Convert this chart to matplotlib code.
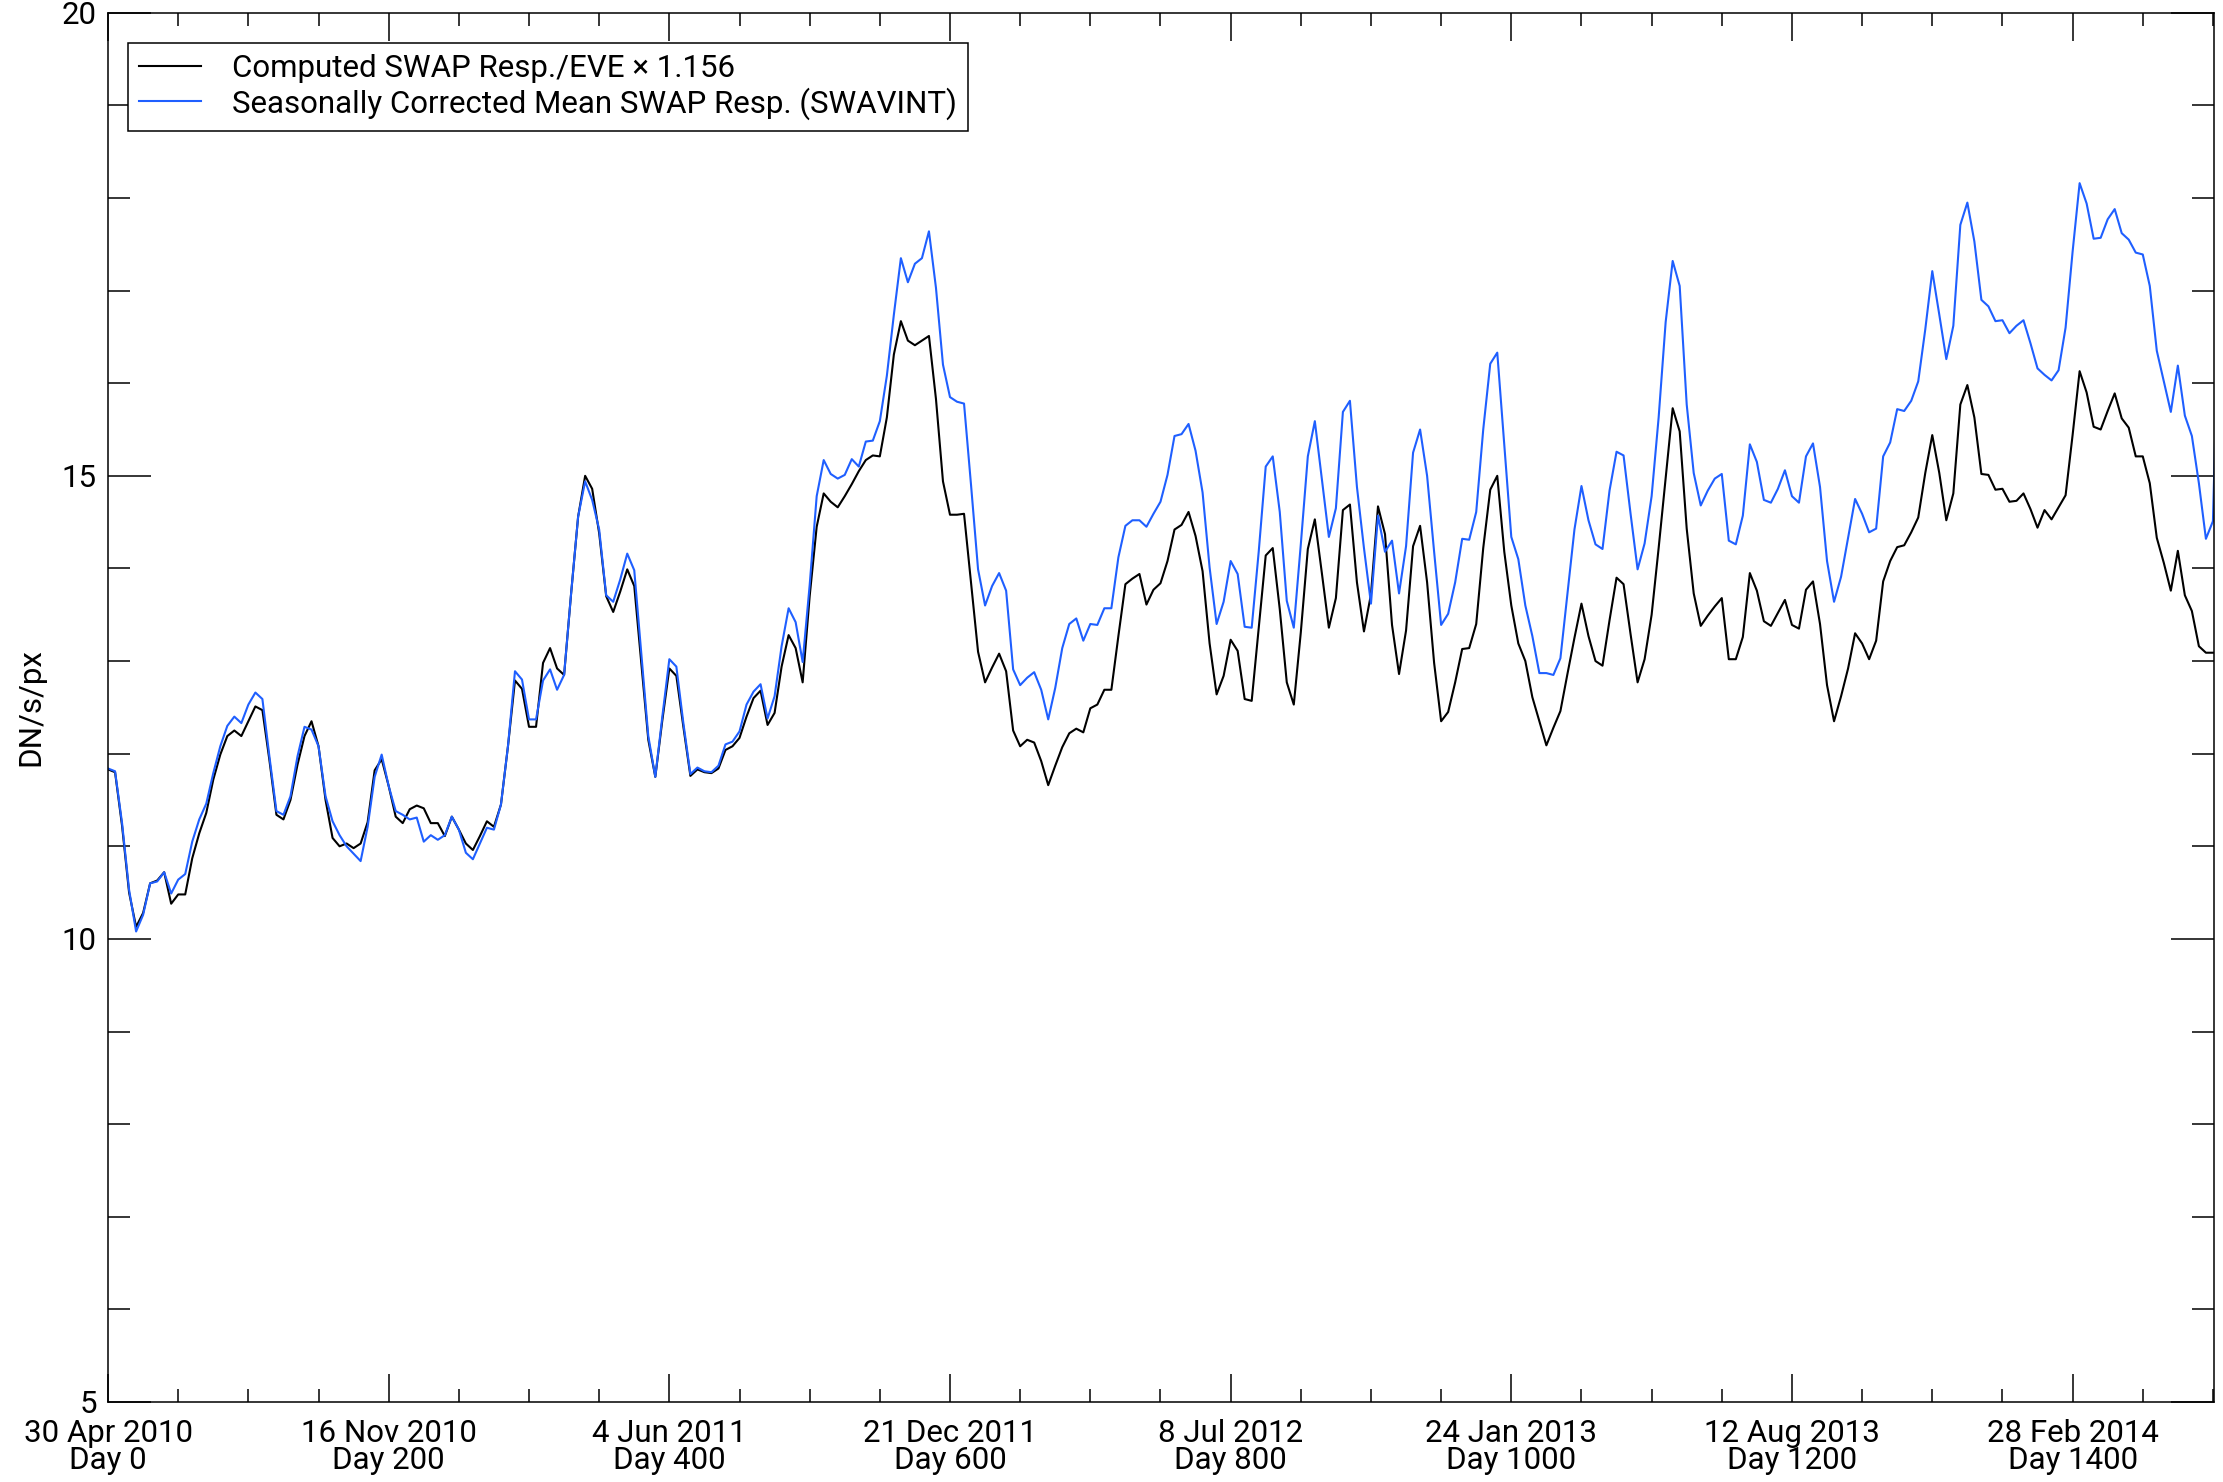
import numpy as np
import matplotlib
matplotlib.use("Agg")
import matplotlib.pyplot as plt
from matplotlib.ticker import MultipleLocator

plt.rcParams["font.family"] = ["Roboto", "DejaVu Sans"]
plt.rcParams["font.size"] = 22.5

# sampling grid of the two responses (every 5 days from 30 Apr 2010)
days = np.arange(0, 1510, 5)

computed = [
    11.83, 11.80, 11.22, 10.50, 10.13, 10.28, 10.60, 10.63, 10.72, 10.38,
    10.48, 10.48, 10.87, 11.14, 11.36, 11.72, 11.99, 12.19, 12.25, 12.19,
    12.35, 12.51, 12.47, 11.93, 11.34, 11.29, 11.50, 11.88, 12.19, 12.35,
    12.08, 11.50, 11.09, 11.00, 11.03, 10.98, 11.03, 11.26, 11.82, 11.94,
    11.65, 11.32, 11.25, 11.40, 11.44, 11.41, 11.25, 11.25, 11.11, 11.32,
    11.18, 11.03, 10.96, 11.11, 11.27, 11.21, 11.45, 12.08, 12.79, 12.70,
    12.29, 12.29, 12.98, 13.14, 12.92, 12.85, 13.73, 14.56, 15.00, 14.86,
    14.38, 13.70, 13.53, 13.75, 13.99, 13.81, 12.98, 12.15, 11.75, 12.36,
    12.92, 12.84, 12.29, 11.76, 11.83, 11.80, 11.79, 11.84, 12.04, 12.08,
    12.17, 12.40, 12.60, 12.68, 12.31, 12.44, 12.94, 13.28, 13.14, 12.77,
    13.70, 14.45, 14.81, 14.72, 14.66, 14.78, 14.91, 15.05, 15.17, 15.22,
    15.21, 15.63, 16.31, 16.67, 16.46, 16.41, 16.46, 16.51, 15.83, 14.94,
    14.58, 14.58, 14.59, 13.85, 13.10, 12.77, 12.93, 13.08, 12.89, 12.25,
    12.08, 12.15, 12.12, 11.92, 11.66, 11.87, 12.07, 12.22, 12.27, 12.23,
    12.49, 12.53, 12.69, 12.69, 13.27, 13.83, 13.89, 13.94, 13.61, 13.77,
    13.84, 14.08, 14.42, 14.47, 14.61, 14.35, 13.97, 13.19, 12.64, 12.84,
    13.23, 13.11, 12.59, 12.57, 13.35, 14.14, 14.22, 13.56, 12.77, 12.53,
    13.31, 14.21, 14.53, 13.95, 13.36, 13.68, 14.63, 14.69, 13.85, 13.32,
    13.72, 14.67, 14.37, 13.39, 12.86, 13.33, 14.24, 14.46, 13.85, 12.98,
    12.35, 12.45, 12.77, 13.13, 13.14, 13.40, 14.22, 14.85, 15.00, 14.18,
    13.60, 13.19, 13.00, 12.61, 12.35, 12.09, 12.28, 12.46, 12.86, 13.25,
    13.62, 13.27, 13.00, 12.95, 13.44, 13.90, 13.83, 13.29, 12.77, 13.02,
    13.50, 14.22, 14.97, 15.73, 15.48, 14.43, 13.73, 13.38, 13.49, 13.59,
    13.68, 13.02, 13.02, 13.26, 13.95, 13.76, 13.43, 13.38, 13.52, 13.66,
    13.39, 13.35, 13.77, 13.86, 13.40, 12.74, 12.35, 12.62, 12.92, 13.30,
    13.19, 13.02, 13.22, 13.86, 14.08, 14.23, 14.25, 14.39, 14.55, 15.03,
    15.44, 15.03, 14.52, 14.81, 15.77, 15.98, 15.63, 15.02, 15.01, 14.85,
    14.86, 14.72, 14.73, 14.81, 14.64, 14.44, 14.63, 14.53, 14.66, 14.79,
    15.44, 16.13, 15.90, 15.53, 15.50, 15.70, 15.89, 15.62, 15.52, 15.21,
    15.21, 14.92, 14.33, 14.06, 13.76, 14.19, 13.71, 13.54, 13.16, 13.09,
    13.09, 13.09,
]

swavint = [
    11.84, 11.81, 11.25, 10.53, 10.08, 10.26, 10.60, 10.62, 10.72, 10.49,
    10.64, 10.70, 11.05, 11.29, 11.46, 11.79, 12.08, 12.30, 12.40, 12.33,
    12.53, 12.66, 12.59, 11.97, 11.38, 11.34, 11.54, 11.97, 12.29, 12.26,
    12.08, 11.54, 11.27, 11.12, 11.00, 10.92, 10.84, 11.21, 11.75, 11.99,
    11.65, 11.38, 11.34, 11.29, 11.31, 11.05, 11.12, 11.07, 11.12, 11.32,
    11.18, 10.93, 10.86, 11.03, 11.20, 11.18, 11.45, 12.08, 12.89, 12.80,
    12.37, 12.37, 12.79, 12.91, 12.69, 12.85, 13.73, 14.56, 14.94, 14.74,
    14.42, 13.71, 13.64, 13.88, 14.16, 13.98, 13.09, 12.19, 11.75, 12.40,
    13.02, 12.94, 12.33, 11.78, 11.85, 11.81, 11.80, 11.87, 12.10, 12.13,
    12.24, 12.53, 12.67, 12.75, 12.38, 12.62, 13.16, 13.57, 13.42, 12.99,
    13.82, 14.78, 15.17, 15.02, 14.97, 15.01, 15.18, 15.10, 15.37, 15.38,
    15.59, 16.08, 16.74, 17.35, 17.09, 17.29, 17.35, 17.64, 17.03, 16.20,
    15.85, 15.80, 15.78, 14.90, 13.99, 13.60, 13.81, 13.95, 13.76, 12.91,
    12.74, 12.82, 12.88, 12.69, 12.37, 12.71, 13.14, 13.40, 13.46, 13.22,
    13.40, 13.39, 13.57, 13.57, 14.12, 14.46, 14.52, 14.52, 14.45, 14.59,
    14.72, 15.01, 15.43, 15.45, 15.56, 15.27, 14.82, 14.01, 13.40, 13.64,
    14.08, 13.94, 13.37, 13.36, 14.18, 15.10, 15.21, 14.61, 13.65, 13.36,
    14.26, 15.21, 15.59, 14.96, 14.34, 14.65, 15.69, 15.81, 14.88, 14.22,
    13.62, 14.57, 14.18, 14.30, 13.73, 14.24, 15.25, 15.50, 15.00, 14.18,
    13.39, 13.51, 13.85, 14.32, 14.31, 14.61, 15.50, 16.21, 16.33, 15.34,
    14.34, 14.10, 13.60, 13.27, 12.87, 12.87, 12.85, 13.03, 13.72, 14.42,
    14.89, 14.52, 14.26, 14.21, 14.84, 15.26, 15.22, 14.59, 13.99, 14.27,
    14.78, 15.63, 16.66, 17.32, 17.05, 15.77, 15.03, 14.68, 14.84, 14.97,
    15.02, 14.30, 14.26, 14.57, 15.34, 15.15, 14.74, 14.71, 14.86, 15.06,
    14.78, 14.71, 15.21, 15.35, 14.88, 14.08, 13.64, 13.91, 14.33, 14.75,
    14.59, 14.39, 14.43, 15.21, 15.36, 15.72, 15.70, 15.81, 16.02, 16.58,
    17.21, 16.74, 16.26, 16.62, 17.71, 17.95, 17.53, 16.90, 16.83, 16.67,
    16.68, 16.54, 16.62, 16.68, 16.43, 16.16, 16.09, 16.03, 16.14, 16.60,
    17.42, 18.16, 17.94, 17.56, 17.57, 17.77, 17.88, 17.62, 17.55, 17.41,
    17.39, 17.05, 16.35, 16.02, 15.69, 16.19, 15.65, 15.43, 14.92, 14.32,
    14.51, 17.40,
]

tick_days = [0, 200, 400, 600, 800, 1000, 1200, 1400]
tick_dates = ["30 Apr 2010", "16 Nov 2010", "4 Jun 2011", "21 Dec 2011",
              "8 Jul 2012", "24 Jan 2013", "12 Aug 2013", "28 Feb 2014"]
y_ticks = [5, 10, 15, 20]

fig = plt.figure(figsize=(22.23, 14.82), dpi=100)
ax = fig.add_axes([0.0486, 0.054, 0.9475, 0.9374])

ax.plot(days, computed, color="black", lw=1.5,
        label="Computed SWAP Resp./EVE \u00d7 1.156")
ax.plot(days, swavint, color="#1f5fff", lw=1.5,
        label="Seasonally Corrected Mean SWAP Resp. (SWAVINT)")

ax.set_xlim(0, 1501)
ax.set_ylim(5, 20)

ax.set_xticks(tick_days)
ax.set_xticklabels([f"{d}\nDay {n}" for d, n in zip(tick_dates, tick_days)],
                   linespacing=0.95)
ax.xaxis.set_minor_locator(MultipleLocator(50))
ax.set_yticks(y_ticks)
ax.set_yticklabels([str(v) for v in y_ticks])
ax.yaxis.set_minor_locator(MultipleLocator(1))

ax.tick_params(axis="both", which="both", direction="in", top=True, right=True,
               width=1.1, colors="black")
ax.tick_params(axis="x", which="major", length=20, pad=12)
ax.tick_params(axis="x", which="minor", length=9.6)
ax.tick_params(axis="y", which="major", length=30.7, pad=8)
ax.tick_params(axis="y", which="minor", length=15.6)

for s in ax.spines.values():
    s.set_linewidth(1.1)

ax.set_ylabel("DN/s/px", labelpad=12)

leg = ax.legend(loc="upper left", bbox_to_anchor=(0.0093, 0.978),
                borderaxespad=0, fancybox=False, framealpha=1,
                edgecolor="black", handlelength=2.0, handletextpad=1.0,
                labelspacing=0.12, borderpad=0.35)
leg.get_frame().set_linewidth(1.1)

fig.savefig("out.png", dpi=100)
